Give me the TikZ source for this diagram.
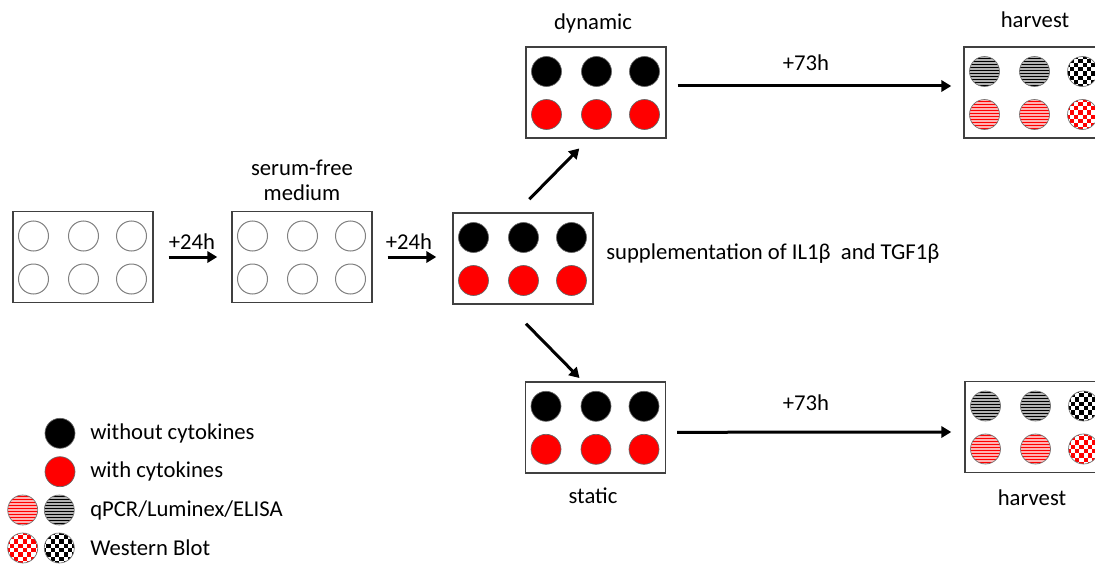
\documentclass[tikz,border=0pt]{standalone}
\usepackage{fontspec}
\setmainfont{Carlito}
\usetikzlibrary{arrows.meta}
\begin{document}
\begin{tikzpicture}[x=0.75pt,y=-0.75pt,
  txt/.style={inner sep=0pt, font=\fontsize{17}{18.5}\selectfont},
  plate/.style={draw=black!75, line width=1.1pt, minimum width=105pt, minimum height=68.25pt, inner sep=0pt},
  well/.style={circle, minimum size=22.5pt, inner sep=0pt, draw=black!50, line width=0.75pt},
  bwell/.style={well, fill=black, draw=black!60, line width=0.5pt},
  rwell/.style={well, fill=red, draw=black!60, line width=0.5pt},
  arr/.style={line width=2.25pt, -{Triangle[length=7.5pt, width=8.5pt]}},
  stripes/.pic={
    \begin{scope}
      \clip (0,0) circle (15);
      \fill[#1!30] (-16,-16) rectangle (16,16);
      \foreach \yy in {-13.5,-10.5,...,14} \draw[#1, line width=0.65pt] (-16,\yy) -- (16,\yy);
    \end{scope}
    \draw[black!55, line width=0.5pt] (0,0) circle (15);
  },
  checker/.pic={
    \begin{scope}
      \clip (0,0) circle (15);
      \fill[white] (-16,-16) rectangle (16,16);
      \foreach \i in {0,...,7} \foreach \j in {0,...,3}
        \fill[#1] ({-17.2+\i*4.3},{-17.2+(2*\j+mod(\i,2))*4.3}) rectangle ++(4.3,4.3);
    \end{scope}
    \draw[black!55, line width=0.5pt] (0,0) circle (15);
  }]
\fill[white] (0,0) rectangle (1095,567);
\useasboundingbox (0,0) rectangle (1095,567);

% plates
\node[plate] (p1) at (83,257) {};
\node[plate] (p2) at (302,257) {};
\node[plate] (p3) at (523,258.5) {};
\node[plate] (dyn) at (596,92.5) {};
\node[plate] (sta) at (595.5,427.3) {};
\node[plate] (h1) at (1034,92.5) {};
\node[plate] (h2) at (1035,427) {};

% empty wells
\foreach \p/\cx/\cy in {p1/83/257, p2/302/257}
  \foreach \c/\dx in {1/-49.5, 2/0.5, 3/48.5}
    \foreach \r/\dy in {1/-21, 2/22}
      \node[well] (\p-\r-\c) at (\cx+\dx,\cy+\dy) {};

% filled wells
\foreach \p/\cx/\cy in {p3/523/258.5, dyn/596/92.5, sta/595.5/427.3}
  \foreach \c/\dx in {1/-49.5, 2/0.5, 3/48.5} {
    \node[bwell] (\p-1-\c) at (\cx+\dx,\cy-21) {};
    \node[rwell] (\p-2-\c) at (\cx+\dx,\cy+22) {};
  }

% harvest wells
\foreach \cx/\cy in {1034/92.5, 1035/427} {
  \pic at (\cx-49.5,\cy-21) {stripes=black};
  \pic at (\cx+0.5,\cy-21) {stripes=black};
  \pic at (\cx+48.5,\cy-21) {checker=black};
  \pic at (\cx-49.5,\cy+22) {stripes=red};
  \pic at (\cx+0.5,\cy+22) {stripes=red};
  \pic at (\cx+48.5,\cy+22) {checker=red};
}

% arrows
\draw[arr] ([shift={(15,0)}]p1.east) -- ([shift={(-14,0)}]p2.west);
\draw[arr] ([shift={(15,0)}]p2.east) -- ([shift={(-16,-1.5)}]p3.west);
\draw[arr] ([shift={(6.3,-13)}]p3.north) -- ([shift={(-16.7,9.7)}]dyn.south);
\draw[arr] ([shift={(3,19)}]p3.south) -- ([shift={(-16,-3)}]sta.north);
\draw[arr] ([shift={(11,-6.5)}]dyn.east) -- ([shift={(-12,-6.5)}]h1.west);
\draw[arr] ([shift={(11,5)}]sta.east) -- ([shift={(-13,5)}]h2.west);

% labels
\node[txt] (l24a) at (192,242) {+24h};
\node[txt] (l24b) at (409,242) {+24h};
\node[txt, align=center] (lsf) at (302,180) {serum-free\\medium};
\node[txt] (ldyn) at (593,23) {dynamic};
\node[txt] (lsta) at (593,496) {static};
\node[txt] (lh1) at (1035,20) {harvest};
\node[txt] (lh2) at (1032,497.7) {harvest};
\node[txt] (l73a) at (806,63) {+73h};
\node[txt] (l73b) at (806,403) {+73h};
\node[txt, anchor=west] (lsup) at (606,254) {supplementation of IL1β~ and TGF1β};

% legend
\node[bwell] (lg1) at (60,433.3) {};
\node[rwell] (lg2) at (60,471.7) {};
\pic at (22.7,510) {stripes=red};
\pic at (59.3,510) {stripes=black};
\pic at (22.7,548) {checker=red};
\pic at (59.3,548) {checker=black};
\node[txt, anchor=west] (t1) at (90,433.3) {without cytokines};
\node[txt, anchor=west] (t2) at (90,471.7) {with cytokines};
\node[txt, anchor=west] (t3) at (90,510) {qPCR/Luminex/ELISA};
\node[txt, anchor=west] (t4) at (90,548) {Western Blot};
\end{tikzpicture}
\end{document}
